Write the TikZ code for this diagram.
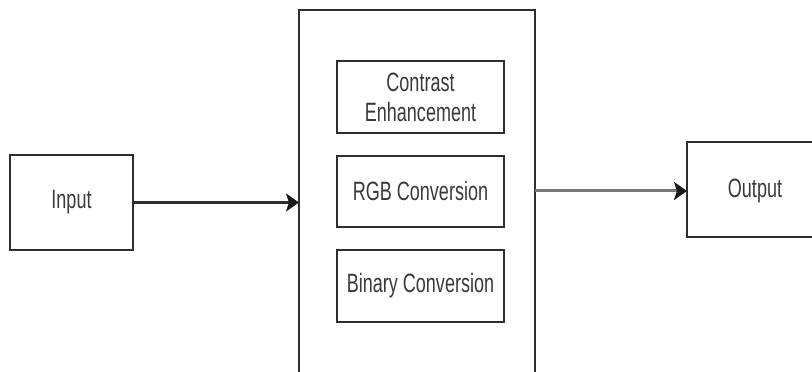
\documentclass[tikz,border=0pt]{standalone}
\usepackage{fontspec}
\setmainfont{Liberation Sans}[FakeStretch=0.68]
\usetikzlibrary{arrows.meta}
\definecolor{edge}{HTML}{2E2E2E}
\definecolor{ink}{HTML}{3A3A3A}
\begin{document}
\begin{tikzpicture}[x=1pt,y=1pt,
  lbl/.style={text=ink,font=\fontsize{26.5}{30}\selectfont},
  box/.style={draw=edge,line width=1.8pt,fill=white,inner sep=0pt,outer sep=0pt,
    align=center,lbl},
  flow/.style={draw=edge,line width=2.4pt,-{Stealth[length=13pt,width=18pt,inset=3pt,color=black!90]}}]
\useasboundingbox (0,0) rectangle (812,372);
\clip (0,0) rectangle (812,372);
% outer processing block (runs past the lower edge)
\node[box,minimum width=236pt,minimum height=400pt] (proc) at (417,162) {};
% inner steps
\node[box,minimum width=167pt,minimum height=72pt] (contrast) at (420.5,275) {Contrast\\Enhancement};
\node[box,minimum width=167pt,minimum height=71pt] (rgb) at (420.5,180.5) {RGB Conversion};
\node[box,minimum width=167pt,minimum height=72pt] (binary) at (420.5,86) {Binary Conversion};
% input and output
\node[box,minimum width=123pt,minimum height=95pt] (in) at (71.5,169.5) {Input};
\node[box,minimum width=143pt,minimum height=95pt] (out) at (758.5,182.5) {};
\node[lbl,inner sep=0pt] (outlbl) at (755,181) {Output};
% connectors
\draw[flow] (in.east) -- (in.east -| proc.west);
\draw[flow,draw=edge!65,line width=3pt] (proc.east |- outlbl) -- (out.west |- outlbl);
\end{tikzpicture}
\end{document}
